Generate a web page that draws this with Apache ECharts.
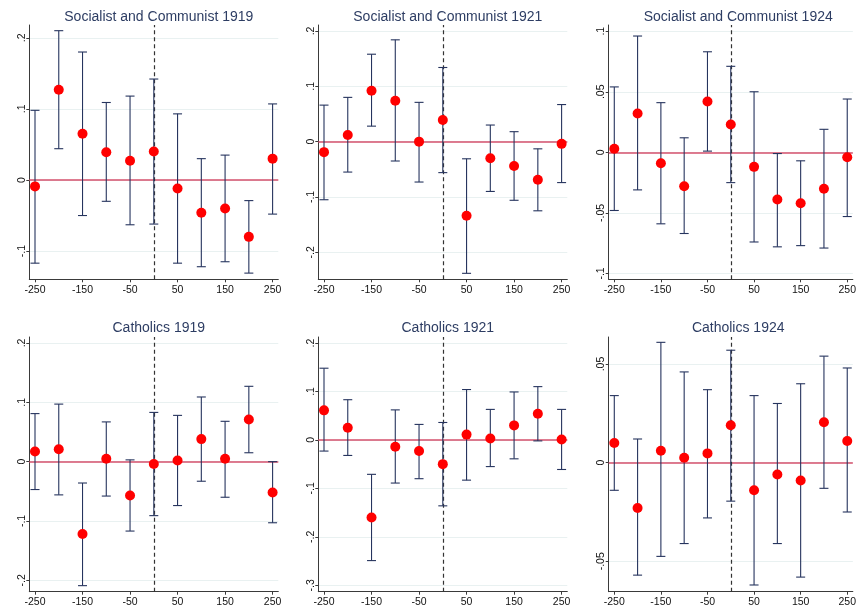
<!DOCTYPE html>
<html>
<head>
<meta charset="utf-8">
<script src="https://cdn.jsdelivr.net/npm/echarts@6/dist/echarts.min.js"></script>
<style>
html,body{margin:0;padding:0;background:#fff;}
#chart{width:859px;height:610px;}
</style>
</head>
<body>
<div id="chart"></div>
<script>
// ---- Data ----
var xs = [-250, -200, -150, -100, -50, 0, 50, 100, 150, 200, 250];
var xTicks = [-250, -150, -50, 50, 150, 250];

var titles = ['Socialist and Communist 1919', 'Socialist and Communist 1921', 'Socialist and Communist 1924',
              'Catholics 1919', 'Catholics 1921', 'Catholics 1924'];

var est1 = [-0.009, 0.127, 0.065, 0.039, 0.027, 0.040, -0.012, -0.046, -0.040, -0.080, 0.030];
var lo1  = [-0.117, 0.044, -0.050, -0.030, -0.063, -0.062, -0.117, -0.122, -0.115, -0.131, -0.048];
var hi1  = [0.098, 0.210, 0.180, 0.109, 0.118, 0.142, 0.093, 0.030, 0.035, -0.029, 0.107];

var est2 = [-0.019, 0.012, 0.092, 0.074, 0.000, 0.039, -0.134, -0.030, -0.044, -0.069, -0.004];
var lo2  = [-0.105, -0.055, 0.028, -0.035, -0.073, -0.056, -0.238, -0.090, -0.106, -0.125, -0.074];
var hi2  = [0.066, 0.080, 0.158, 0.184, 0.071, 0.134, -0.031, 0.030, 0.018, -0.013, 0.067];

var est3 = [0.003, 0.032, -0.009, -0.028, 0.042, 0.023, -0.012, -0.039, -0.042, -0.030, -0.004];
var lo3  = [-0.048, -0.031, -0.059, -0.067, 0.001, -0.025, -0.074, -0.078, -0.077, -0.079, -0.053];
var hi3  = [0.054, 0.096, 0.041, 0.012, 0.083, 0.071, 0.050, -0.001, -0.007, 0.019, 0.044];

var est4 = [0.017, 0.021, -0.122, 0.005, -0.057, -0.004, 0.002, 0.038, 0.005, 0.071, -0.052];
var lo4  = [-0.047, -0.056, -0.209, -0.058, -0.117, -0.091, -0.074, -0.033, -0.060, 0.015, -0.103];
var hi4  = [0.081, 0.097, -0.036, 0.067, 0.003, 0.083, 0.078, 0.109, 0.068, 0.127, 0.000];

var est5 = [0.061, 0.025, -0.160, -0.014, -0.023, -0.050, 0.011, 0.003, 0.030, 0.054, 0.001];
var lo5  = [-0.023, -0.032, -0.249, -0.089, -0.080, -0.136, -0.083, -0.055, -0.039, -0.002, -0.061];
var hi5  = [0.148, 0.083, -0.071, 0.062, 0.032, 0.036, 0.104, 0.063, 0.099, 0.110, 0.063];

var est6 = [0.010, -0.023, 0.006, 0.0025, 0.0047, 0.019, -0.014, -0.006, -0.009, 0.0205, 0.011];
var lo6  = [-0.014, -0.057, -0.0475, -0.041, -0.028, -0.0195, -0.062, -0.041, -0.058, -0.013, -0.025];
var hi6  = [0.034, 0.012, 0.061, 0.046, 0.037, 0.057, 0.034, 0.030, 0.040, 0.054, 0.048];

var yTicks1 = [-0.1, 0, 0.1, 0.2];
var yTicks2 = [-0.2, -0.1, 0, 0.1, 0.2];
var yTicks3 = [-0.1, -0.05, 0, 0.05, 0.1];
var yTicks4 = [-0.2, -0.1, 0, 0.1, 0.2];
var yTicks5 = [-0.3, -0.2, -0.1, 0, 0.1, 0.2];
var yTicks6 = [-0.05, 0, 0.05];

// ---- Layout ----
var panels = [
  {est: est1, lo: lo1, hi: hi1, ticks: yTicks1, ymin: -0.1397, ymax: 0.218,  left: 29.3,  top: 25,  height: 254.3},
  {est: est2, lo: lo2, hi: hi2, ticks: yTicks2, ymin: -0.2488, ymax: 0.2108, left: 318.3, top: 25,  height: 254.3},
  {est: est3, lo: lo3, hi: hi3, ticks: yTicks3, ymin: -0.1048, ymax: 0.1051, left: 608.7, top: 25,  height: 254.3},
  {est: est4, lo: lo4, hi: hi4, ticks: yTicks4, ymin: -0.2192, ymax: 0.2101, left: 29.3,  top: 337, height: 254.7},
  {est: est5, lo: lo5, hi: hi5, ticks: yTicks5, ymin: -0.3132, ymax: 0.2124, left: 318.3, top: 337, height: 254.7},
  {est: est6, lo: lo6, hi: hi6, ticks: yTicks6, ymin: -0.0654, ymax: 0.0637, left: 608.7, top: 337, height: 254.7}
];
var panelWidth = 249;
var titleTops = [5, 5, 5, 316, 316, 316];

function fmtY(v) {
  var s = String(Math.round(v * 1000) / 1000);
  return s.replace('0.', '.');
}

var grids = [], xAxes = [], yAxes = [], series = [], titleArr = [];
var axisColor = '#3a3a3a';
var barColor = '#26345e';
var fontFam = 'Liberation Sans, Arial, sans-serif';

panels.forEach(function (p, i) {
  grids.push({left: p.left, top: p.top, width: panelWidth, height: p.height, containLabel: false});
  titleArr.push({
    text: titles[i],
    left: p.left + panelWidth / 2,
    top: titleTops[i],
    textAlign: 'center',
    textStyle: {fontFamily: fontFam, fontSize: 14, fontWeight: 'normal', color: '#2d3d63'}
  });
  xAxes.push({
    type: 'value', gridIndex: i, min: -262, max: 262,
    axisLine: {show: true, onZero: false, lineStyle: {color: axisColor, width: 1}},
    axisTick: {show: true, length: 3, customValues: xTicks, lineStyle: {color: axisColor}},
    axisLabel: {customValues: xTicks, margin: 5, fontSize: 10.5, color: '#111', fontFamily: fontFam},
    splitLine: {show: false}
  });
  yAxes.push({
    type: 'value', gridIndex: i, min: p.ymin, max: p.ymax,
    axisLine: {show: true, onZero: false, lineStyle: {color: axisColor, width: 1}},
    axisTick: {show: true, length: 3, customValues: p.ticks, lineStyle: {color: axisColor}},
    axisLabel: {customValues: p.ticks, rotate: 90, margin: 2, fontSize: 10.5, color: '#111',
                fontFamily: fontFam, formatter: fmtY},
    splitLine: {show: true, lineStyle: {color: '#e9f1f1', width: 1}}
  });

  var barData = xs.map(function (x, k) { return [x, p.lo[k], p.hi[k]]; });
  series.push({
    type: 'custom', xAxisIndex: i, yAxisIndex: i, z: 3,
    data: barData,
    encode: {x: 0, y: [1, 2]},
    renderItem: function (params, api) {
      var x = api.value(0);
      var a = api.coord([x, api.value(1)]);
      var b = api.coord([x, api.value(2)]);
      var hw = 4.5;
      var st = {stroke: barColor, lineWidth: 1.1};
      return {
        type: 'group',
        children: [
          {type: 'line', shape: {x1: a[0], y1: a[1], x2: b[0], y2: b[1]}, style: st},
          {type: 'line', shape: {x1: a[0] - hw, y1: a[1], x2: a[0] + hw, y2: a[1]}, style: st},
          {type: 'line', shape: {x1: b[0] - hw, y1: b[1], x2: b[0] + hw, y2: b[1]}, style: st}
        ]
      };
    },
    markLine: {
      silent: true, symbol: 'none', animation: false, z: 2,
      label: {show: false},
      data: [
        {yAxis: 0, lineStyle: {color: '#d4506c', width: 1.5, type: 'solid'}},
        {xAxis: 0, lineStyle: {color: '#333', width: 1.2, type: [4, 3]}}
      ]
    }
  });
  series.push({
    type: 'scatter', xAxisIndex: i, yAxisIndex: i, z: 4,
    symbol: 'circle', symbolSize: 10,
    itemStyle: {color: '#ff0000', opacity: 1},
    data: xs.map(function (x, k) { return [x, p.est[k]]; })
  });
});

var chart = echarts.init(document.getElementById('chart'), null, {renderer: 'canvas'});
chart.setOption({
  animation: false,
  backgroundColor: '#ffffff',
  title: titleArr,
  grid: grids,
  xAxis: xAxes,
  yAxis: yAxes,
  series: series
});
</script>
</body>
</html>
